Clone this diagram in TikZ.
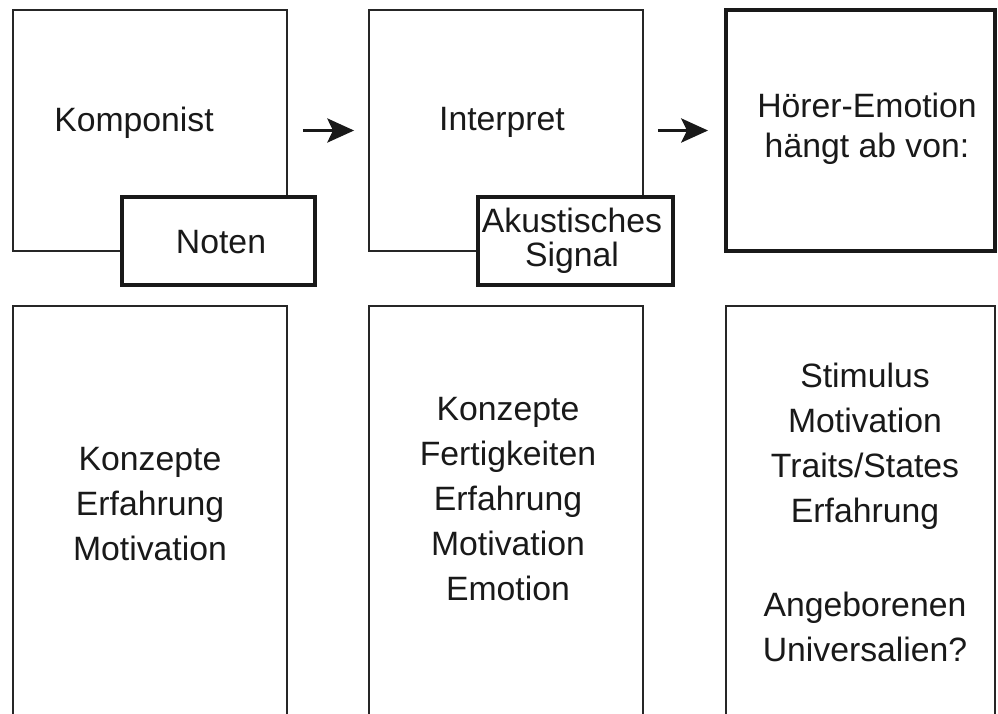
\documentclass[tikz,border=0pt]{standalone}
\usepackage{fontspec}
\setmainfont{Liberation Sans}
\usetikzlibrary{arrows.meta,positioning}

\begin{document}
\begin{tikzpicture}[
    x=0.025cm, y=-0.025cm,
    box/.style={rectangle, draw=black!85, line width=1.2pt, fill=white, inner sep=0pt},
    thickbox/.style={box, draw=black!90, line width=2.7pt},
    lbl/.style={font=\fontsize{24}{32}\selectfont, text=black!90, align=center, inner sep=0pt},
    arrow/.style={-{Stealth[length=19pt, width=17pt, inset=4pt]}, line width=2.8pt, black!90}
]
\useasboundingbox (0,0) rectangle (998,713);
\clip (0,0) rectangle (998,713);

% top row
\node[box, minimum width=6.85cm, minimum height=6.025cm] (komp) at (150,130.5) {};
\node[box, minimum width=6.85cm, minimum height=6.025cm] (interp) at (506,130.5) {};
\node[thickbox, minimum width=6.725cm, minimum height=6.025cm] (hoerer) at (860.5,130.5) {};
\node[thickbox, minimum width=4.825cm, minimum height=2.2cm] (noten) at (218.5,241) {};
\node[thickbox, minimum width=4.875cm, minimum height=2.2cm] (signal) at (575.5,241) {};

\node[lbl, anchor=base] (kompt) at (134,131) {Komponist};
\node[lbl, anchor=base] (interpt) at (502,130) {Interpret};
\node[lbl, anchor=north, font=\fontsize{24}{28.5}\selectfont] (hoerert) at (867,93) {Hörer-Emotion\\hängt ab von:};
\node[lbl, anchor=base] (notent) at (221,253) {Noten};
\node[lbl, anchor=north, font=\fontsize{24}{24}\selectfont] (signalt) at (572,208) {Akustisches\\Signal};

\draw[arrow, shorten <=0.375cm, shorten >=0.35cm] (komp.east) -- (interp.west);
\draw[arrow, shorten <=0.35cm, shorten >=0.4cm] (interp.east) -- (hoerer.west);

% bottom row
\node[box, minimum width=6.85cm, minimum height=11.35cm] (kompb) at (150,533) {};
\node[box, minimum width=6.85cm, minimum height=11.35cm] (interpb) at (506,533) {};
\node[box, minimum width=6.725cm, minimum height=11.35cm] (hoererb) at (860.5,533) {};

\node[lbl, anchor=north] (kompbt) at (150,447) {Konzepte\\Erfahrung\\Motivation};
\node[lbl, anchor=north] (interpbt) at (508,397) {Konzepte\\Fertigkeiten\\Erfahrung\\Motivation\\Emotion};
\node[lbl, anchor=north] (hoererbt) at (865,363) {Stimulus\\Motivation\\Traits/States\\Erfahrung\\[35pt]Angeborenen\\Universalien?};
\end{tikzpicture}
\end{document}
